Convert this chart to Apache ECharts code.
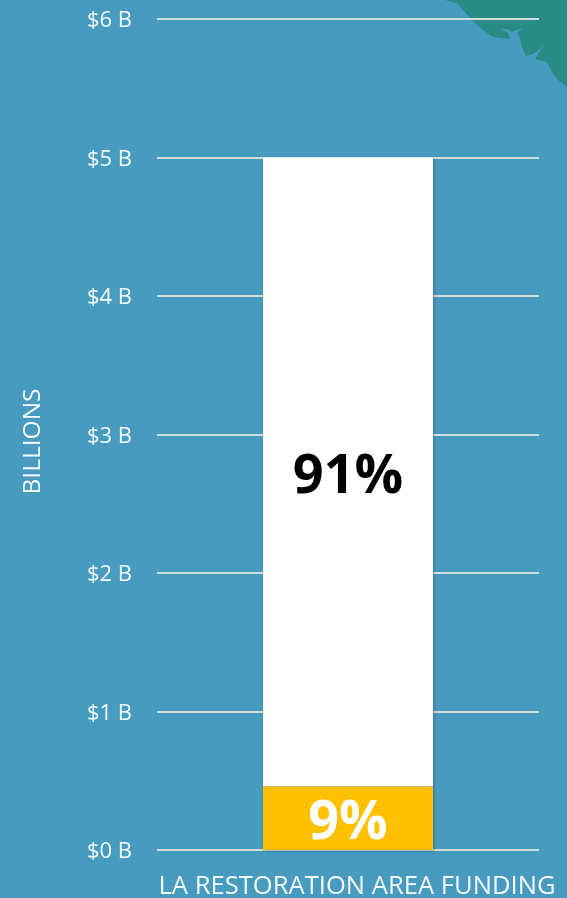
<!DOCTYPE html>
<html>
<head>
<meta charset="utf-8">
<style>html,body{margin:0;padding:0;background:#469bbf;overflow:hidden}#c{width:567px;height:898px}</style>
<script src="https://cdn.jsdelivr.net/npm/echarts@6/dist/echarts.min.js"></script>
</head>
<body>
<div id="c"></div>
<script>
const categories = ['LA RESTORATION AREA FUNDING'];
const goldValues = [0.46];
const whiteValues = [4.54];
const goldLabels = ['9%'];
const whiteLabels = ['91%'];
const yTicks = ['$0 B','$1 B','$2 B','$3 B','$4 B','$5 B','$6 B'];
const yTitle = 'BILLIONS';
const font = '"Open Sans", "Noto Sans", sans-serif';

const coast = [[445,0],[457,3],[463,10],[472,20],[483,30],[493,37],[510,39],[508,33],[501,29],[507,29],[512,32],[523,28],[517,33],[520,38],[522,47],[526,56],[533,54],[546,44],[542,48],[535,59],[547,62],[552,72],[558,80],[567,87],[567,0]];

const chart = echarts.init(document.getElementById('c'), null, {renderer:'canvas'});
chart.setOption({
  backgroundColor:'#469bbf',
  animation:false,
  graphic:[{type:'polygon',silent:true,z:-1,shape:{points:coast},style:{fill:'#288b85'}}],
  grid:{left:157,right:28,top:19,bottom:48,outerBoundsMode:'none'},
  xAxis:{type:'category',data:categories,
    axisLine:{show:false},axisTick:{show:false},
    axisLabel:{color:'#f4fafc',fontFamily:font,fontSize:25.6,margin:24,padding:[0,0,0,18],interval:0,hideOverlap:false}},
  yAxis:{type:'value',min:0,max:6,interval:1,
    name:yTitle,nameLocation:'middle',nameGap:125,nameRotate:90,
    nameTextStyle:{color:'#f4fafc',fontFamily:font,fontSize:24.5,padding:[0,14,-14,0]},
    axisLine:{show:false},axisTick:{show:false},
    axisLabel:{color:'#f4fafc',fontFamily:font,fontSize:22,margin:25,verticalAlign:'top',lineHeight:4,formatter:(v)=>yTicks[v]},
    splitLine:{lineStyle:{color:'#d3dbdf',width:2}}},
  series:[
    {type:'bar',stack:'a',data:goldValues,barWidth:170,
     itemStyle:{color:'#ffc000',shadowColor:'rgba(0,40,60,0.35)',shadowBlur:3,shadowOffsetX:1,shadowOffsetY:1},
     label:{show:true,position:'inside',offset:[0,5],formatter:()=>goldLabels[0],color:'#ffffff',fontFamily:font,fontWeight:'bold',fontSize:54}},
    {type:'bar',stack:'a',data:whiteValues,barWidth:170,
     itemStyle:{color:'#ffffff',shadowColor:'rgba(0,40,60,0.35)',shadowBlur:3,shadowOffsetX:1,shadowOffsetY:0},
     label:{show:true,position:'inside',offset:[0,6],formatter:()=>whiteLabels[0],color:'#000000',fontFamily:font,fontWeight:'bold',fontSize:54}}
  ]
});
</script>
</body>
</html>
